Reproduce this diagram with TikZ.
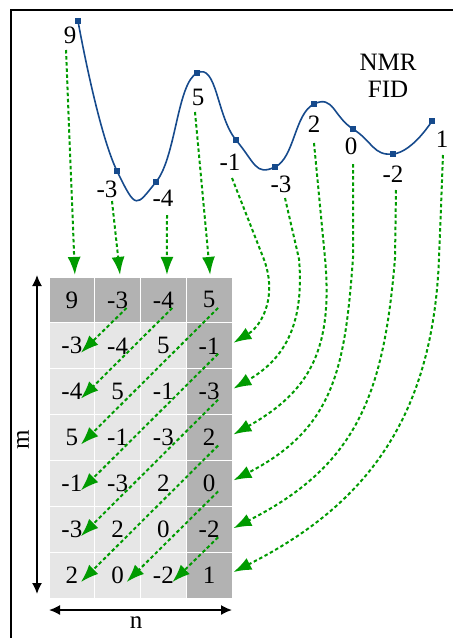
\documentclass[tikz,border=0pt]{standalone}
\usepackage{fontspec}
\setmainfont{Liberation Serif}
\usetikzlibrary{arrows.meta,calc}
\definecolor{fidblue}{RGB}{22,74,140}
\definecolor{arrgreen}{RGB}{0,155,0}
\definecolor{darkcell}{RGB}{178,178,178}
\definecolor{lightcell}{RGB}{230,230,230}
\begin{document}
\begin{tikzpicture}[x=1pt,y=-1pt,
  lbl/.style={font=\fontsize{25}{30}\selectfont, inner sep=0pt},
  cell/.style={draw=white, line width=0.8pt, minimum width=45.75pt, minimum height=45.86pt, inner sep=0pt, font=\fontsize{25}{30}\selectfont},
  garrow/.style={draw=arrgreen, line width=2pt, dash pattern=on 3.5pt off 2.6pt, -{Latex[length=18pt,width=13pt,fill=arrgreen]}},
  marker/.style={fill=fidblue, minimum size=6.5pt, inner sep=0pt, rectangle},
  dimarrow/.style={line width=1.6pt, {Latex[length=11pt,width=10pt]}-{Latex[length=11pt,width=10pt]}}
]
\useasboundingbox (0,0) rectangle (453,638);
% frame
\draw[line width=1.8pt] (11.3,638) -- (11.3,10) -- (453,10);

% grid
\foreach \row [count=\r] in {{9,-3,-4,5},{-3,-4,5,-1},{-4,5,-1,-3},{5,-1,-3,2},{-1,-3,2,0},{-3,2,0,-2},{2,0,-2,1}} {
  \foreach \v [count=\c] in \row {
    \ifnum\r=1 \def\fc{darkcell}\else\ifnum\c=4 \def\fc{darkcell}\else\def\fc{lightcell}\fi\fi
    \node[cell, fill=\fc] (c\r\c) at ({49+45.75*(\c-0.5)},{277+45.86*(\r-0.5)}) {\v};
  }
}

% FID curve
\draw[fidblue, line width=1.6pt] plot[smooth, tension=0.9] coordinates {(78,21) (117,171) (156,182) (197,73) (236,140) (275,167) (314,104) (353,129) (393,154) (432,121)};
\foreach \x/\y [count=\i] in {78/21,117/171,156/182,197/73,236/140,275/167,314/104,353/129,393/154,432/121} {
  \node[marker] (p\i) at (\x,\y) {};
}
% labels
\node[lbl] (l1) at (70,35) {9};
\node[lbl] (l2) at (107,189) {-3};
\node[lbl] (l3) at (163,198) {-4};
\node[lbl] (l4) at (198,97) {5};
\node[lbl] (l5) at (230,162) {-1};
\node[lbl] (l6) at (281,184) {-3};
\node[lbl] (l7) at (314,124) {2};
\node[lbl] (l8) at (351,146) {0};
\node[lbl] (l9) at (393,174) {-2};
\node[lbl] (l10) at (442,139) {1};
\node[lbl, align=center] (title) at (388,76) {NMR\\[-3pt]FID};

% vertical arrows
\draw[garrow] ($(l1)+(-4,15)$) -- ($(c11)+(3,-25)$);
\draw[garrow] ($(l2)+(5,12)$) -- ($(c12)+(2.4,-25)$);
\draw[garrow] ($(l3)+(4,17)$) -- ($(c13)+(3.6,-25)$);
\draw[garrow] ($(l4)+(-3,15)$) -- ($(c14)+(1,-25)$);

% curved arrows
\draw[garrow] ($(l5)+(2,16)$) -- (263,257) .. controls (278,294) and (263,325) .. ($(c24.east)+(1,-3)$);
\draw[garrow] ($(l6)+(4,14)$) -- (299,259) .. controls (305,329) and (281,361) .. ($(c34.east)+(1,-3)$);
\draw[garrow] ($(l7)+(0,19)$) -- (325,258) .. controls (333,348) and (311,391) .. ($(c44.east)+(1,-3)$);
\draw[garrow] ($(l8)+(2,18)$) -- (353,258) .. controls (345,367) and (335,428) .. ($(c54.east)+(1,-3)$);
\draw[garrow] ($(l9)+(3,16)$) -- (395,258) .. controls (384,393) and (358,465) .. ($(c64.east)+(1,-1)$);
\draw[garrow] ($(l10)+(1,16)$) -- (439,258) .. controls (433,418) and (366,505) .. ($(c74.east)+(1,-3)$);

% diagonal arrows
\foreach \a/\b in {12/21,13/31,14/41,24/51,34/61,44/71,54/72,64/73} {
  \draw[garrow] ($(c\a)+(9,8)$) -- ($(c\b)+(9,7)$);
}

% dimensions
\coordinate (mtop) at (37,275);
\coordinate (mbot) at (37,594);
\draw[dimarrow] (mtop) -- (mbot);
\node[lbl, rotate=90] (mlab) at (23,440) {m};
\coordinate (nl) at (49,610);
\coordinate (nr) at (232,610);
\draw[dimarrow] (nl) -- (nr);
\node[lbl] (nlab) at (136,623) {n};
\end{tikzpicture}
\end{document}
